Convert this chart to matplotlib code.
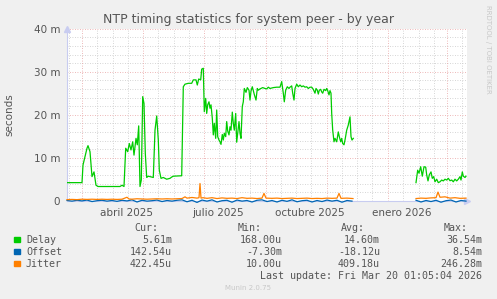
import numpy as np
import matplotlib
matplotlib.use('Agg')
import matplotlib.pyplot as plt
from datetime import date

# eje x: dias desde el 14 de febrero de 2025 (borde izquierdo del grafico)
inicio = date(2025, 2, 14)
nan = np.nan

# Delay (ms)
delay_dias = [0, 15, 16, 20, 21, 23, 25, 27, 29, 31, 53, 55, 57,
              58.7, 60.7, 62.3, 64, 65.7, 67, 69, 70.3, 71.7, 73, 74.3, 75.7, 77, 78.3, 79.7, 81.3,
              86.3, 88, 89.7, 91.3, 92.3, 94, 96.3, 99.7, 103, 104.7, 106.3, 114.7,
              116.3, 118, 121.3, 124.7, 126.3, 129, 130.3, 131.7, 133.7, 134.7, 136.3, 137.3, 138.7,
              139.7, 140.7, 142, 143, 144, 145.3, 146.3, 147.3, 148.7, 149.7, 150.7, 152, 153, 154,
              155.3, 156.3, 157.3, 158.7, 159.7, 160.7, 162, 163, 164, 165.3, 166.3, 167.3, 168.7,
              169.7, 170.7, 172, 173, 174, 175.3, 176.3, 177.3, 179, 180.3, 182, 183, 184, 185.3,
              187.3, 189, 190.3, 191.3, 193, 195.7, 198, 199.7, 201.3, 203, 206.3, 209.7, 213,
              214.7, 216.3, 217.3, 218.7, 220.3, 222, 223, 224.7, 225.7, 227, 228, 229.7, 231.3,
              233, 234.7, 236.3, 238, 239.7, 241.3, 243, 244.7, 246.3, 248, 249, 250.3, 251.3,
              252.3, 253.7, 254.7, 255.7, 257, 258.7, 259.7, 260.7, 262, 263, 264, 264.7, 265.7,
              267, 268, 269.7, 271.3, 272.3, 273.7, 274.7, 275.7, 277, 278, 279.7, 281.3, 283,
              284, 285, 286.3, 300,
              349, 350.7, 352, 353.7, 355.3, 357, 358.7, 359.7, 361, 362.3, 364, 365.3, 366.7,
              368, 369.7, 371.3, 373, 374.7, 376.3, 378, 379.7, 381.3, 383, 384.7, 386.3, 388,
              389.7, 391.3, 393, 394, 395.3, 396.3, 398, 399]
delay = [4.2, 4.2, 8.3, 12.2, 12.8, 11.4, 5.6, 6.7, 3.6, 3.3, 3.3, 3.6, 3.3,
         12.2, 11.4, 13.3, 11.8, 13.7, 10.6, 14.5, 13.0, 17.4, 3.3, 4.8, 24.2, 22.6, 11.0, 5.4, 5.7,
         5.4, 16.4, 19.7, 14.1, 7.1, 5.2, 5.4, 5.0, 5.2, 5.5, 5.7, 5.8,
         26.5, 27.1, 27.3, 27.3, 28.1, 28.1, 26.9, 28.3, 28.1, 30.6, 30.8, 20.7, 23.8,
         20.3, 22.3, 23.0, 21.5, 22.3, 19.2, 15.3, 18.0, 14.5, 21.1, 14.9, 14.1, 13.7, 13.1,
         15.4, 14.1, 15.7, 14.9, 18.4, 16.2, 15.3, 17.2, 16.4, 20.6, 18.0, 16.4, 20.3,
         13.6, 15.7, 18.4, 15.7, 14.5, 21.9, 23.0, 26.1, 25.2, 26.3, 25.7, 23.4, 25.5, 26.5,
         24.7, 23.4, 26.1, 25.7, 26.0, 26.3, 26.1, 26.0, 26.4, 26.1, 26.3, 26.4, 26.4,
         27.7, 25.0, 23.0, 25.7, 26.5, 26.1, 26.4, 26.7, 25.0, 23.4, 26.1, 27.1, 26.5,
         26.9, 26.5, 26.7, 26.4, 26.5, 26.1, 26.4, 26.4, 25.9, 25.0, 26.1, 25.7, 24.8,
         25.7, 25.9, 25.3, 25.0, 25.9, 25.6, 26.1, 25.6, 24.6, 25.6, 25.0, 20.3, 16.4,
         13.7, 14.5, 13.7, 16.0, 14.9, 13.7, 14.5, 13.3, 13.0, 14.1, 16.4, 17.6, 19.5,
         14.9, 14.1, 14.5, nan,
         4.2, 7.1, 6.4, 7.9, 5.7, 7.9, 7.8, 6.0, 4.6, 6.0, 6.7, 5.2, 5.6,
         4.4, 5.0, 4.2, 4.4, 4.8, 4.6, 5.0, 4.8, 5.2, 4.65, 4.8, 4.4, 5.0,
         4.6, 5.0, 5.6, 4.8, 6.7, 5.7, 5.4, 5.7]

# Offset (ms)
offset_dias = list(range(0, 290, 5)) + [300] + list(range(349, 400, 5))
offset = [0.05, -0.1, 0.1, -0.05, 0.15, -0.2, 0.0, 0.1, -0.1, 0.05,
          -0.15, 0.1, -0.05, 0.2, -0.3, 0.1, -0.1, 0.0, 0.15, -0.2,
          0.05, -0.1, 0.1, 0.2, -0.25, 0.1, -0.4, 0.15, -0.1, 0.2,
          -0.3, 0.0, 0.1, -0.35, 0.15, -0.1, 0.05, -0.3, 0.1, 0.2,
          -0.2, 0.05, -0.3, 0.1, -0.15, 0.2, -0.25, 0.0, 0.1, -0.3,
          0.05, -0.2, 0.15, -0.1, 0.1, -0.35, 0.05, -0.1,
          nan,
          0.1, -0.3, 0.05, -0.2, 0.1, -0.35, 0.0, 0.15, -0.3, 0.05, -0.1]

# Jitter (ms)
jitter_dias = [0, 5, 10, 15, 20, 25, 30, 35, 40, 45, 50, 55, 60, 62, 65, 70, 75, 80, 85, 90,
               95, 100, 105, 110, 115, 118, 120, 125, 130, 132, 133, 134, 136, 140, 145, 150,
               155, 160, 165, 170, 175, 180, 185, 190, 195, 197, 199, 205, 210, 215, 220, 225,
               230, 235, 240, 245, 250, 255, 260, 265, 270, 272, 274, 280, 286, 300,
               349, 354, 359, 364, 369, 371, 373, 378, 383, 388, 393, 399]
jitter = [0.25, 0.3, 0.25, 0.35, 0.3, 0.35, 0.3, 0.35, 0.3, 0.35, 0.3, 0.35, 0.8, 0.4, 0.35,
          0.45, 0.4, 0.35, 0.4, 0.45, 0.4, 0.45, 0.4, 0.45, 0.5, 0.9, 0.6, 0.75, 0.6, 0.7,
          4.0, 0.6, 0.7, 0.55, 0.7, 0.5, 0.65, 0.55, 0.6, 0.5, 0.7, 0.55, 0.6, 0.5, 0.6,
          1.7, 0.6, 0.55, 0.6, 0.5, 0.55, 0.6, 0.5, 0.55, 0.6, 0.5, 0.55, 0.5, 0.6, 0.55,
          0.6, 1.7, 0.55, 0.6, 0.5, nan,
          0.5, 0.6, 0.55, 0.65, 0.7, 2.0, 0.8, 0.9, 0.6, 0.7, 0.55, 0.6]

meses_etiqueta = ['abril 2025', 'julio 2025', 'octubre 2025', 'enero 2026']
fechas_etiqueta = [date(2025, 4, 15), date(2025, 7, 15), date(2025, 10, 15), date(2026, 1, 15)]

series = ['Delay', 'Offset', 'Jitter']
colores = ['#00CC00', '#0066B3', '#FF8000']
cur = ['5.61m', '142.54u', '422.45u']
minimo = ['168.00u', '-7.30m', '10.00u']
media = ['14.60m', '-18.12u', '409.18u']
maximo = ['36.54m', '8.54m', '246.28m']


def dia(d):
    return (d - inicio).days


fig = plt.figure(figsize=(4.97, 2.99), dpi=100, facecolor='#F0F0F0')
ax = fig.add_axes([67 / 497, 1 - 200.7 / 299, 400 / 497, 172 / 299])
ax.set_facecolor('white')

# rejilla vertical: cada medio mes gris, cada dos meses roja
for anio, mes in [(2025, m) for m in range(2, 13)] + [(2026, m) for m in range(1, 4)]:
    for d in (1, 16):
        x = dia(date(anio, mes, d))
        if 0 < x < 400:
            if d == 1 and mes % 2 == 1:
                ax.axvline(x, color='#E8A0A0', lw=0.6, ls=(0, (1, 2)), zorder=1)
            else:
                ax.axvline(x, color='#C8C8C8', lw=0.6, ls=(0, (1, 2)), zorder=0.5)
for y in np.arange(2, 40, 2):
    if y % 10 == 0:
        continue
    ax.axhline(y, color='#C8C8C8', lw=0.6, ls=(0, (1, 2)), zorder=0.5)
for y in [0, 10, 20, 30, 40]:
    ax.axhline(y, color='#E8A0A0', lw=0.6, ls=(0, (1, 2)), zorder=1)

ax.plot(delay_dias, delay, color=colores[0], lw=0.9, zorder=3)
ax.plot(offset_dias, offset, color=colores[1], lw=0.9, zorder=4, clip_on=False)
ax.plot(jitter_dias, jitter, color=colores[2], lw=0.9, zorder=5, clip_on=False)

ax.set_xlim(0, 400)
ax.set_ylim(0, 40)
ax.set_yticks([0, 10, 20, 30, 40])
ax.set_yticklabels(['0', '10 m', '20 m', '30 m', '40 m'])
ax.set_xticks([dia(f) for f in fechas_etiqueta])
ax.set_xticklabels(meses_etiqueta)
ax.tick_params(length=0, labelsize=7.5, colors='#555555', pad=5)
for s in ['top', 'right']:
    ax.spines[s].set_visible(False)
for s in ['left', 'bottom']:
    ax.spines[s].set_color('#C8CCF0')
    ax.spines[s].set_linewidth(0.8)
    ax.spines[s].set_zorder(2)
ax.plot([1], [0], marker='>', color='#C8CCF0', ms=5, transform=ax.transAxes, clip_on=False)
ax.plot([0], [1], marker='^', color='#C8CCF0', ms=5, transform=ax.transAxes, clip_on=False)
ax.set_ylabel('seconds', fontsize=7.5, color='#555555', labelpad=14)

fig.text(0.5, 1 - 19 / 299, 'NTP timing statistics for system peer - by year',
         ha='center', va='center', fontsize=9, color='#555555')
fig.text(488 / 497, 1 - 5 / 299, 'RRDTOOL / TOBI OETIKER', rotation=270,
         ha='center', va='top', fontsize=5, color='#C8C8C8')

# leyenda estilo munin
mono = 'DejaVu Sans Mono'
fs = 7.2
tc = '#555555'
cabecera = [('Cur:', 158), ('Min:', 262), ('Avg:', 365), ('Max:', 468)]
for txt, xr in cabecera:
    fig.text(xr / 497, 1 - 228.3 / 299, txt, ha='right', va='center',
             fontsize=fs, family=mono, color=tc)
filas_y = [239.7, 251.7, 263.7]
for i, nombre in enumerate(series):
    yy = 1 - filas_y[i] / 299
    fig.patches.append(plt.Rectangle((14 / 497, yy - 2.7 / 299), 5.5 / 497, 5.5 / 299,
                                     transform=fig.transFigure, color=colores[i]))
    fig.text(26 / 497, yy, nombre, ha='left', va='center', fontsize=fs, family=mono, color=tc)
    for col, xr in zip([cur, minimo, media, maximo], [172, 282, 380, 482]):
        fig.text(xr / 497, yy, col[i], ha='right', va='center', fontsize=fs, family=mono, color=tc)
fig.text(482 / 497, 1 - 275.7 / 299, 'Last update: Fri Mar 20 01:05:04 2026',
         ha='right', va='center', fontsize=fs, family=mono, color=tc)
fig.text(248 / 497, 1 - 287.7 / 299, 'Munin 2.0.75', ha='center', va='center',
         fontsize=5, color='#C8C8C8')

fig.savefig('out.png', dpi=100, facecolor=fig.get_facecolor())
